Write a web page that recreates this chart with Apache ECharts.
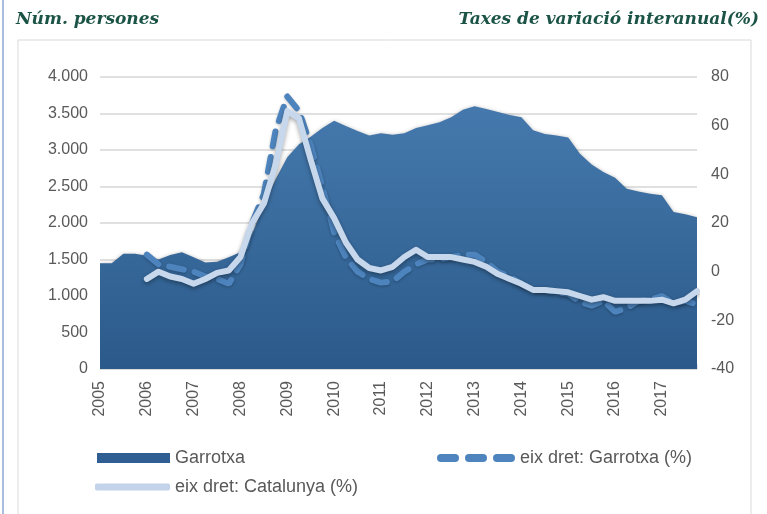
<!DOCTYPE html>
<html>
<head>
<meta charset="utf-8">
<script src="https://cdn.jsdelivr.net/npm/echarts@6/dist/echarts.min.js"></script>
<style>
  html, body { margin: 0; padding: 0; background: #fff; }
  #chart { width: 767px; height: 514px; }
</style>
</head>
<body>
<div id="chart"></div>
<script>
// quarterly series, 2005T1 .. 2017T4
const years = [2005, 2006, 2007, 2008, 2009, 2010, 2011, 2012, 2013, 2014, 2015, 2016, 2017];
const quarters = ['T1', 'T2', 'T3', 'T4'];

// Garrotxa, number of persons (left axis)
const garrotxa = [
  1450, 1450, 1580, 1580,
  1550, 1500, 1560, 1600,
  1530, 1460, 1470, 1530,
  1600, 1850, 2250, 2600,
  2900, 3080, 3180, 3300,
  3400, 3330, 3260, 3200,
  3230, 3210, 3230, 3300,
  3340, 3380, 3450, 3550,
  3600, 3560, 3520, 3480,
  3450, 3270, 3220, 3200,
  3170, 2950, 2800, 2700,
  2620, 2470, 2430, 2400,
  2380, 2150, 2120, 2080
];

// year-on-year rates (right axis)
const garrotxaPct = [
  null, null, null, null,
  7, 3, 2, 1,
  0, -2, -3, -5,
  3, 20, 32, 58,
  72, 66, 52, 35,
  16, 6, 0, -3,
  -4.5, -4, 0, 3,
  5, 5, 6, 7,
  7, 4, 0, -2,
  -5, -7.5, -7.5, -8.5,
  -9, -12.5, -14, -12,
  -16.5, -15, -12, -11.5,
  -10, -13, -12, -13.5
];
const catalunyaPct = [
  null, null, null, null,
  -3, 0, -2, -3,
  -5, -3, -0.5, 0.5,
  6, 20, 28, 44,
  66, 63, 46, 30,
  22, 12, 5, 1.5,
  0.5, 2, 6, 9,
  6, 6, 6, 5,
  4, 2, -1, -3,
  -5, -7.5, -7.5, -8,
  -8.5, -10, -11.5, -10.5,
  -12, -12, -12, -12,
  -11.5, -13, -11.5, -8
];

const categories = [];
years.forEach(y => quarters.forEach(q => categories.push(y + '-' + q)));

const txt = '#595959';
const font = 'Liberation Sans';
const titleStyle = { fontFamily: 'DejaVu Serif', fontStyle: 'italic', fontWeight: 'bold', fontSize: 17, color: '#1b5446' };
const legendText = { fontFamily: font, fontSize: 18, color: txt };

// three rounded dashes for the legend of the dashed series
const dashIcon = 'path://M4,0H18A4,4 0 0 1 18,8H4A4,4 0 0 1 4,0Z' +
  'M32,0H46A4,4 0 0 1 46,8H32A4,4 0 0 1 32,0Z' +
  'M60,0H74A4,4 0 0 1 74,8H60A4,4 0 0 1 60,0Z';

const chart = echarts.init(document.getElementById('chart'));
chart.setOption({
  animation: false,
  graphic: [
    { type: 'rect', shape: { x: 18, y: 40, width: 733, height: 490 },
      style: { fill: 'none', stroke: '#d9d9d9', lineWidth: 1 }, silent: true },
    { type: 'line', shape: { x1: 3, y1: 0, x2: 3, y2: 514 },
      style: { stroke: '#a9bde0', lineWidth: 2 }, silent: true }
  ],
  title: [
    { text: 'Núm. persones', left: 11, top: 6, textStyle: titleStyle },
    { text: 'Taxes de variació interanual(%)', right: 3, top: 6, textStyle: titleStyle }
  ],
  legend: [
    { left: 97, top: 449, padding: 0, itemWidth: 73, itemHeight: 10,
      data: [{ name: 'Garrotxa', icon: 'rect' }], textStyle: legendText },
    { left: 437, top: 449, padding: 0, itemWidth: 78, itemHeight: 8,
      data: [{ name: 'eix dret: Garrotxa (%)', icon: dashIcon, itemStyle: { color: '#4d84bd' } }],
      textStyle: legendText },
    { left: 95, top: 478, padding: 0, itemWidth: 75, itemHeight: 7,
      data: [{ name: 'eix dret: Catalunya (%)', icon: 'roundRect', itemStyle: { color: '#c3d4ea' } }],
      textStyle: legendText }
  ],
  grid: { left: 100, right: 70, top: 77, bottom: 145 },
  xAxis: {
    type: 'category',
    data: categories,
    boundaryGap: false,
    axisLine: { lineStyle: { color: '#d9d9d9' } },
    axisTick: { show: true, interval: 0, length: 5, inside: true, lineStyle: { color: '#dfe6ef' } },
    axisLabel: {
      interval: 3, rotate: 90, margin: 12,
      fontFamily: font, fontSize: 16, color: txt,
      formatter: v => v.split('-')[0]
    }
  },
  yAxis: [
    { type: 'value', min: 0, max: 4000, interval: 500,
      axisLine: { show: false }, axisTick: { show: false },
      splitLine: { lineStyle: { color: '#d6d6d6', width: 1.5 } },
      axisLabel: { fontFamily: font, fontSize: 16, color: txt, margin: 12,
        formatter: v => String(v).replace(/\B(?=(\d{3})+(?!\d))/g, '.') } },
    { type: 'value', min: -40, max: 80, interval: 20,
      axisLine: { show: false }, axisTick: { show: false },
      splitLine: { show: false },
      axisLabel: { fontFamily: font, fontSize: 16, color: txt, margin: 14 } }
  ],
  series: [
    {
      name: 'Garrotxa', type: 'line', yAxisIndex: 0,
      data: garrotxa, symbol: 'none',
      lineStyle: { width: 0 },
      itemStyle: { color: '#2f5f92' },
      areaStyle: {
        opacity: 1,
        color: new echarts.graphic.LinearGradient(0, 0, 0, 1, [
          { offset: 0, color: '#4579ad' },
          { offset: 1, color: '#2b5a8a' }
        ]),
        shadowBlur: 4, shadowColor: 'rgba(0,0,0,0.35)', shadowOffsetY: 1
      }
    },
    {
      name: 'eix dret: Garrotxa (%)', type: 'line', yAxisIndex: 1,
      data: garrotxaPct, symbol: 'none',
      itemStyle: { color: '#4d84bd' },
      lineStyle: { width: 6, color: '#4d84bd', type: [15, 11], cap: 'round',
        shadowBlur: 3, shadowColor: 'rgba(0,0,0,0.25)', shadowOffsetY: 1 }
    },
    {
      name: 'eix dret: Catalunya (%)', type: 'line', yAxisIndex: 1,
      data: catalunyaPct, symbol: 'none',
      itemStyle: { color: '#c7d8ed' },
      lineStyle: { width: 6, color: '#c7d8ed', cap: 'round', join: 'round',
        shadowBlur: 4, shadowColor: 'rgba(0,0,0,0.35)', shadowOffsetY: 2 }
    }
  ]
});
</script>
</body>
</html>
